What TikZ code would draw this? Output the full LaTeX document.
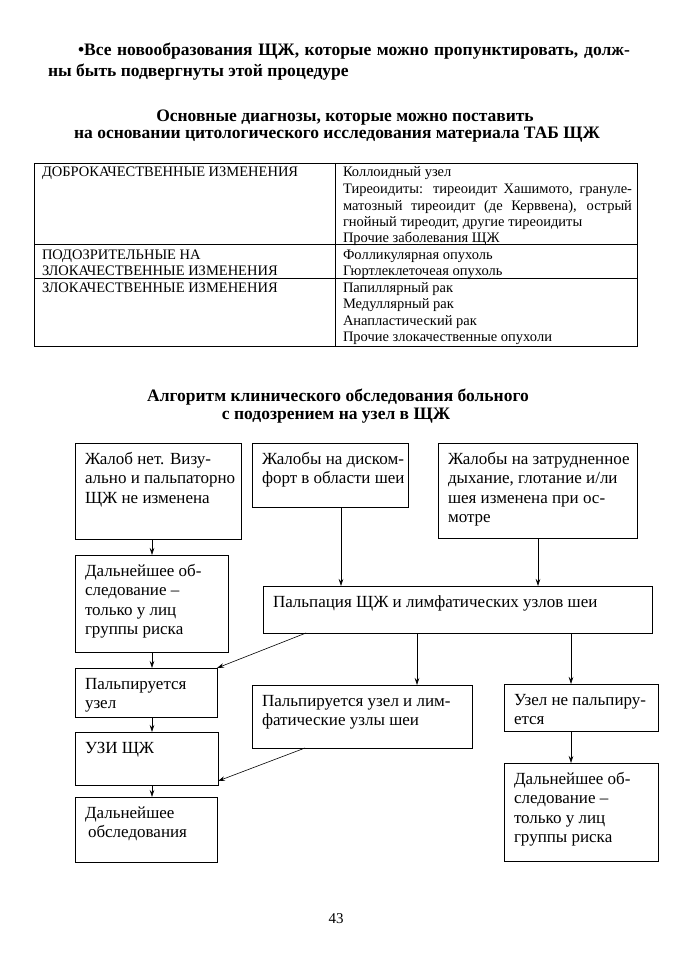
\documentclass[tikz,border=0pt]{standalone}
\usepackage{fontspec}
\setmainfont{Liberation Serif}
\usetikzlibrary{arrows.meta,calc}
\newcommand\hfont{\bfseries\fontsize{17.5}{20}\selectfont}
\newcommand\tfont{\fontsize{14.5}{16.5}\selectfont}
\newcommand\ffont{\fontsize{17}{19.5}\selectfont}
\newcommand\btext[1]{\parbox[t]{420pt}{\ffont\raggedright #1}}
\tikzset{
  box/.style={draw, line width=1pt, inner sep=0pt, outer sep=0pt},
  txt/.style={anchor=base west, inner sep=0pt, outer sep=0pt},
  ctxt/.style={anchor=base, inner sep=0pt, outer sep=0pt},
  arr/.style={-{Stealth[length=7pt,width=4.5pt]}, line width=0.6pt},
  rule/.style={line width=0.8pt},
}
\newcommand\flowbox[6]{%
  \node[box, minimum width={(#4)-(#2)}, minimum height={(#5)-(#3)}] (#1) at ({((#2)+(#4))/2},{((#3)+(#5))/2}) {};
  \node[txt] (#1t) at ($(#1.north west)+(10,21)$) {\btext{#6}};
}
\begin{document}
\begin{tikzpicture}[x=1pt,y=-1pt]
\useasboundingbox[fill=white] (0,0) rectangle (673,960);

% headings
\node[txt] (h1) at (78,56) {\hfont\makebox[552pt][s]{•Все новообразования ЩЖ, которые можно пропунктировать, долж-}};
\node[txt] (h2) at (48,77) {\hfont ны быть подвергнуты этой процедуре};
\node[ctxt] (h3) at (345,122) {\hfont Основные диагнозы, которые можно поставить};
\node[ctxt] (h4) at (337,139) {\hfont на основании цитологического исследования материала ТАБ ЩЖ};

% table
\draw[rule] (34,163) rectangle (637,346);
\draw[rule] (335,163) -- (335,346);
\draw[rule] (34,244) -- (637,244);
\draw[rule] (34,278) -- (637,278);

\node[txt] (l1) at (42,177) {\tfont ДОБРОКАЧЕСТВЕННЫЕ ИЗМЕНЕНИЯ};
\node[txt] (l2) at (42,259) {\tfont ПОДОЗРИТЕЛЬНЫЕ НА};
\node[txt] (l3) at (42,275.5) {\tfont ЗЛОКАЧЕСТВЕННЫЕ ИЗМЕНЕНИЯ};
\node[txt] (l4) at (42,292) {\tfont ЗЛОКАЧЕСТВЕННЫЕ ИЗМЕНЕНИЯ};

\node[txt] (r1) at (343,177) {\tfont Коллоидный узел};
\node[txt] (r2) at (343,193.5) {\tfont\makebox[289pt][s]{Тиреоидиты: тиреоидит Хашимото, грануле-}};
\node[txt] (r3) at (343,210) {\tfont\makebox[289pt][s]{матозный тиреоидит (де Керввена), острый}};
\node[txt] (r4) at (343,226.5) {\tfont гнойный тиреодит, другие тиреоидиты};
\node[txt] (r5) at (343,242.5) {\tfont Прочие заболевания ЩЖ};
\node[txt] (r6) at (343,259) {\tfont Фолликулярная опухоль};
\node[txt] (r7) at (343,275.5) {\tfont Гюртлеклеточеая опухоль};
\node[txt] (r8) at (343,292) {\tfont Папиллярный рак};
\node[txt] (r9) at (343,308.5) {\tfont Медуллярный рак};
\node[txt] (r10) at (343,325) {\tfont Анапластический рак};
\node[txt] (r11) at (343,341.5) {\tfont Прочие злокачественные опухоли};

% flow title
\node[ctxt] (f1) at (338,401) {\hfont Алгоритм клинического обследования больного};
\node[ctxt] (f2) at (336,419) {\hfont с подозрением на узел в ЩЖ};

% boxes
\flowbox{b1}{75}{443}{241}{539}{Жалоб нет. Визу-\\ально и пальпаторно\\ЩЖ не изменена}
\flowbox{b2}{252}{443}{408}{507}{Жалобы на диском-\\форт в области шеи}
\flowbox{b3}{438}{443}{637}{538}{Жалобы на затрудненное\\дыхание, глотание и/ли\\шея изменена при ос-\\мотре}
\flowbox{b4}{75}{555}{228}{652}{Дальнейшее об-\\следование –\\только у лиц\\группы риска}
\flowbox{b5}{263}{586}{652}{633}{Пальпация ЩЖ и лимфатических узлов шеи}
\flowbox{b6}{75}{668}{217}{717}{Пальпируется\\узел}
\flowbox{b7}{252}{685}{472}{748}{Пальпируется узел и лим-\\фатические узлы шеи}
\flowbox{b8}{504}{684}{658}{731}{Узел не пальпиру-\\ется}
\flowbox{b9}{75}{732}{218}{785}{УЗИ ЩЖ}
\flowbox{b10}{75}{797}{217}{862}{Дальнейшее\\\hspace{3pt}обследования}
\flowbox{b11}{504}{763}{658}{861}{Дальнейшее об-\\следование –\\только у лиц\\группы риска}

% columns for connectors
\coordinate (c152) at (152,0);
\coordinate (c341) at (341,0);
\coordinate (c538) at (538,0);
\coordinate (c417) at (417,0);
\coordinate (c571) at (571,0);
\coordinate (d1) at (306,0);
\coordinate (d2) at (305,0);
\coordinate (d2e) at (0,781);

\draw[arr] (b1.south -| c152) -- (b4.north -| c152);
\draw[arr] (b4.south -| c152) -- (b6.north -| c152);
\draw[arr] (b6.south -| c152) -- (b9.north -| c152);
\draw[arr] (b9.south -| c152) -- (b10.north -| c152);
\draw[arr] (b2.south -| c341) -- (b5.north -| c341);
\draw[arr] (b3.south -| c538) -- (b5.north -| c538);
\draw[arr] (b5.south -| c417) -- (b7.north -| c417);
\draw[arr] (b5.south -| c571) -- (b8.north -| c571);
\draw[arr] (b8.south -| c571) -- (b11.north -| c571);
\draw[arr] (b5.south -| d1) -- (b6.north east);
\draw[arr] (b7.south -| d2) -- (b9.east |- d2e);

\node[ctxt] (pg) at (336,923) {\fontsize{15}{18}\selectfont 43};
\end{tikzpicture}
\end{document}
